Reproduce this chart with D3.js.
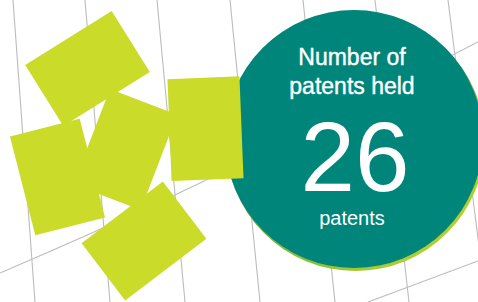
<!doctype html>
<html>
<head>
<meta charset="utf-8">
<title>Number of patents held</title>
<script src="https://cdnjs.cloudflare.com/ajax/libs/d3/7.8.5/d3.min.js"></script>
<style>
  html, body { margin: 0; padding: 0; background: #fff; }
  svg { display: block; }
  text { font-family: "Liberation Sans", Arial, Helvetica, sans-serif; fill: #fff; }
</style>
</head>
<body>
<svg width="478" height="302"></svg>
<script>
    // chart data
    var titleLines = ["Number of", "patents held"];
    var patentCounts = [26];
    var unitLabels = ["patents"];

    // background grid (decoration)
    var gridTop = [13, 85, 157, 230, 303, 375, 448];
    var gridBottom = [35, 110, 185, 260, 335, 409, 486];
    var gridCross = [
        [[0, 273], [200, 183], [478, 42]],
        [[368, 302], [478, 261]]
    ];

    // scattered cards (decoration)
    var cardW = 72, cardH = 102;
    var cardX = [57.5, 87.5, 125.3, 144, 205.5];
    var cardY = [177, 68.5, 149.5, 241, 128.7];
    var cardAngle = [-14.4, 58, 21, 52.8, -2.3];

    var teal = "#00857a",
        lime = "#cbdb2a";

    var svg = d3.select("svg"),
        width = +svg.attr("width"),
        height = +svg.attr("height");

    var cx = 354, cy = 139;
    var rScale = d3.scaleSqrt().domain([0, 26]).range([0, 129]);

    var defs = svg.append("defs");
    var grad = defs.append("linearGradient")
        .attr("id", "rim")
        .attr("x1", "0").attr("y1", "0")
        .attr("x2", "1").attr("y2", "1");
    grad.append("stop").attr("offset", "0%").attr("stop-color", "#2f8f62");
    grad.append("stop").attr("offset", "55%").attr("stop-color", "#7fb83a");
    grad.append("stop").attr("offset", "100%").attr("stop-color", lime);

    // grid
    var grid = svg.append("g")
        .attr("fill", "none")
        .attr("stroke", "#bcbcc0")
        .attr("stroke-width", 1.1);

    grid.selectAll(".v")
        .data(gridTop)
        .enter().append("line")
        .attr("class", "v")
        .attr("x1", function (d) { return d; })
        .attr("y1", 0)
        .attr("x2", function (d, i) { return gridBottom[i]; })
        .attr("y2", height);

    var line = d3.line().curve(d3.curveNatural);
    grid.selectAll(".h")
        .data(gridCross)
        .enter().append("path")
        .attr("class", "h")
        .attr("d", line);

    // the big circle
    patentCounts.forEach(function (v) {
        var r = rScale(v);
        svg.append("circle")
            .attr("cx", cx + 1.5)
            .attr("cy", cy + 2.5)
            .attr("r", r + 0.5)
            .attr("fill", "url(#rim)");
        svg.append("circle")
            .attr("cx", cx)
            .attr("cy", cy)
            .attr("r", r)
            .attr("fill", teal);
    });

    // cards
    svg.append("g").selectAll("rect")
        .data(cardX)
        .enter().append("rect")
        .attr("x", -cardW / 2)
        .attr("y", -cardH / 2)
        .attr("width", cardW)
        .attr("height", cardH)
        .attr("fill", lime)
        .attr("transform", function (d, i) {
            return "translate(" + d + "," + cardY[i] + ") rotate(" + cardAngle[i] + ")";
        });

    // texts
    var tx = 352;
    svg.selectAll(".title")
        .data(titleLines)
        .enter().append("text")
        .attr("class", "title")
        .attr("x", tx)
        .attr("y", function (d, i) { return 65 + i * 29; })
        .attr("text-anchor", "middle")
        .style("font-size", "23px")
        .style("stroke", "#fff")
        .style("stroke-width", "0.4px")
        .text(function (d) { return d; });

    svg.selectAll(".value")
        .data(patentCounts)
        .enter().append("text")
        .attr("class", "value")
        .attr("x", tx + 3)
        .attr("y", 191)
        .attr("text-anchor", "middle")
        .style("font-size", "98px")
        .text(function (d) { return d; });

    svg.selectAll(".unit")
        .data(unitLabels)
        .enter().append("text")
        .attr("class", "unit")
        .attr("x", tx)
        .attr("y", 225)
        .attr("text-anchor", "middle")
        .style("font-size", "20px")
        .text(function (d) { return d; });
</script>
</body>
</html>
